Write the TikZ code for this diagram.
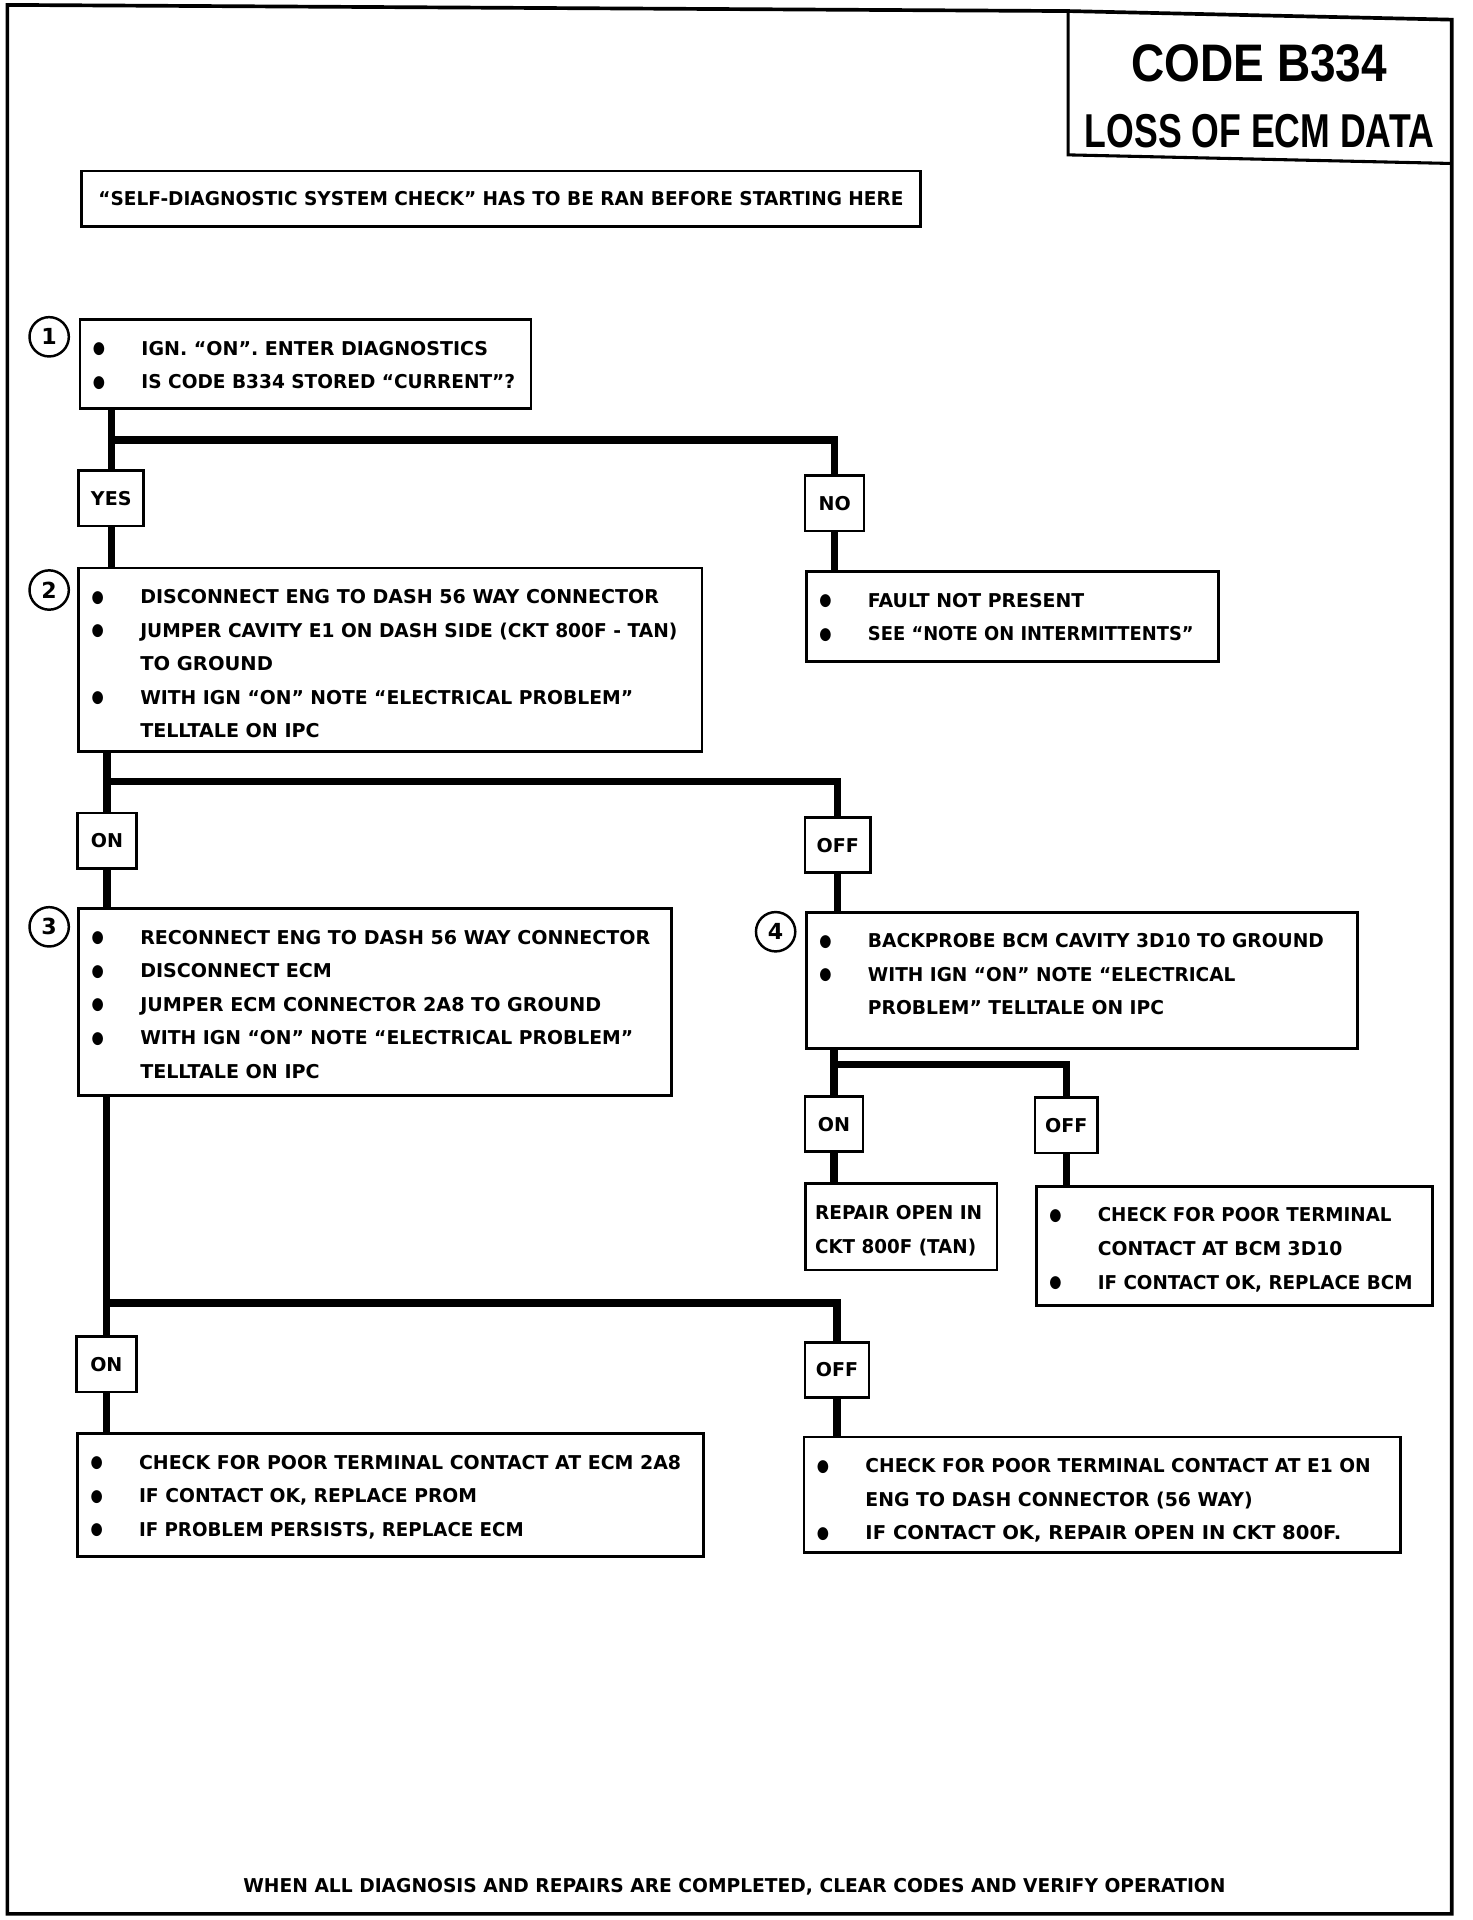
\documentclass[tikz,border=0pt]{standalone}
\usepackage{fontspec}
\usepackage{graphicx}
\setmainfont{DejaVu Sans}
\newfontfamily\titf{Liberation Sans}
\newlength\bw
\newcommand\bul{\smash{\makebox[0pt]{\raisebox{1.2pt}{\scalebox{0.95}[1.15]{\fontsize{12}{12}\selectfont ●}}}}}
\newcommand\BL[2]{\hbox to\bw{\hskip15.5pt\bul\hskip34.5pt\smash{\resizebox{#1pt}{\height}{#2}}\hss}\kern27.3pt}
\newcommand\CL[2]{\hbox to\bw{\hskip50pt\smash{\resizebox{#1pt}{\height}{#2}}\hss}\kern27.3pt}
\newcommand\PL[2]{\hbox to\bw{\hskip8pt\smash{\resizebox{#1pt}{\height}{#2}}\hss}\kern27.3pt}
\newcommand\TB[3]{\bw=#1pt\vbox to#2pt{\offinterlineskip\kern29pt #3\vss}}
\begin{document}
\begin{tikzpicture}[x=1pt,y=-1pt,
  font=\fontsize{15.5}{18}\selectfont\bfseries,
  box/.style={draw,line width=2.2pt,inner sep=0pt,anchor=north west},
  lbl/.style={draw,line width=2.2pt,inner sep=0pt,minimum height=45pt},
  num/.style={circle,draw,line width=2pt,minimum size=32pt,inner sep=0pt,font=\fontsize{18}{18}\selectfont\bfseries},
  conn/.style={line width=6pt},
  frame/.style={line width=3pt}]
\useasboundingbox (0,0) rectangle (1198,1562);
% outer frame and title box
\draw[frame] (6,4) -- (869,9) -- (1181,16) -- (1181,1557) -- (6,1557) -- cycle;
\draw[line width=2.5pt] (869,9) -- (869,126) -- (1181,133);
\node[anchor=north,inner sep=0pt] (title) at (1024.5,36) {\vbox{\offinterlineskip
  \hbox to290pt{\hss\resizebox{208pt}{30pt}{\titf\bfseries CODE B334}\hss}\kern26pt
  \hbox to290pt{\hss\resizebox{284pt}{27pt}{\titf\bfseries LOSS OF ECM DATA}\hss}}};
% self diagnostic
\node[box,minimum width=683pt,minimum height=45pt] (sd) at (65,138)
  {\resizebox{655pt}{\height}{“SELF-DIAGNOSTIC SYSTEM CHECK” HAS TO BE RAN BEFORE STARTING HERE}};
% step boxes
\node[box] (b1) at (64,259) {\TB{367}{72}{\BL{282}{IGN. “ON”. ENTER DIAGNOSTICS}\BL{304}{IS CODE B334 STORED “CURRENT”?}}};
\node[box] (b2) at (63,461) {\TB{507}{149}{\BL{422}{DISCONNECT ENG TO DASH 56 WAY CONNECTOR}\BL{437}{JUMPER CAVITY E1 ON DASH SIDE (CKT 800F - TAN)}\CL{108}{TO GROUND}\BL{401}{WITH IGN “ON” NOTE “ELECTRICAL PROBLEM”}\CL{146}{TELLTALE ON IPC}}};
\node[box] (nr) at (655,464) {\TB{335}{73}{\BL{176}{FAULT NOT PRESENT}\BL{265}{SEE “NOTE ON INTERMITTENTS”}}};
\node[box] (b3) at (63,738) {\TB{482}{152}{\BL{415}{RECONNECT ENG TO DASH 56 WAY CONNECTOR}\BL{156}{DISCONNECT ECM}\BL{375}{JUMPER ECM CONNECTOR 2A8 TO GROUND}\BL{401}{WITH IGN “ON” NOTE “ELECTRICAL PROBLEM”}\CL{146}{TELLTALE ON IPC}}};
\node[box] (b4) at (655,741) {\TB{448}{111}{\BL{371}{BACKPROBE BCM CAVITY 3D10 TO GROUND}\BL{299}{WITH IGN “ON” NOTE “ELECTRICAL}\CL{241}{PROBLEM” TELLTALE ON IPC}}};
\node[box] (rp) at (654,962) {\TB{156}{70}{\PL{136}{REPAIR OPEN IN}\PL{131}{CKT 800F (TAN)}}};
\node[box] (ck) at (842,964) {\TB{322}{97}{\BL{239}{CHECK FOR POOR TERMINAL}\CL{199}{CONTACT AT BCM 3D10}\BL{256}{IF CONTACT OK, REPLACE BCM}}};
\node[box] (b5) at (62,1165) {\TB{509}{100}{\BL{441}{CHECK FOR POOR TERMINAL CONTACT AT ECM 2A8}\BL{275}{IF CONTACT OK, REPLACE PROM}\BL{313}{IF PROBLEM PERSISTS, REPLACE ECM}}};
\node[box] (b6) at (653,1168) {\TB{485}{94}{\BL{411}{CHECK FOR POOR TERMINAL CONTACT AT E1 ON}\CL{315}{ENG TO DASH CONNECTOR (56 WAY)}\BL{387}{IF CONTACT OK, REPAIR OPEN IN CKT 800F.}}};
% step numbers
\node[num] (n1) at (40,274) {1};
\node[num] (n2) at (40,480) {2};
\node[num] (n3) at (40,754) {3};
\node[num] (n4) at (631,758) {4};
% branch labels
\node[lbl,minimum width=53pt] (yes) at (90.5,405.5) {YES};
\node[lbl,minimum width=48pt] (no) at (679,409.5) {NO};
\node[lbl,minimum width=48pt] (on1) at (87,684) {ON};
\node[lbl,minimum width=53pt] (off1) at (681.5,687.5) {OFF};
\node[lbl,minimum width=47pt] (on2) at (678.5,914.5) {ON};
\node[lbl,minimum width=51pt] (off2) at (867.5,915.5) {OFF};
\node[lbl,minimum width=49pt] (on3) at (86.5,1110) {ON};
\node[lbl,minimum width=52pt] (off3) at (681,1114.5) {OFF};
% junction levels
\coordinate (j1) at (0,358);
\coordinate (j2) at (0,636);
\coordinate (j3) at (0,866);
\coordinate (j4) at (0,1060);
% connectors
\draw[conn] (yes.north |- b1.south) -- (yes.north);
\draw[conn] (yes |- j1) -| (no.north);
\draw[conn] (yes.south) -- (yes.south |- b2.north);
\draw[conn] (no.south) -- (no.south |- nr.north);
\draw[conn] (on1.north |- b2.south) -- (on1.north);
\draw[conn] (on1 |- j2) -| (off1.north);
\draw[conn] (on1.south) -- (on1.south |- b3.north);
\draw[conn] (off1.south) -- (off1.south |- b4.north);
\draw[conn] (on2.north |- b4.south) -- (on2.north);
\draw[conn] (on2 |- j3) -| (off2.north);
\draw[conn] (on2.south) -- (on2.south |- rp.north);
\draw[conn] (off2.south) -- (off2.south |- ck.north);
\draw[conn] (on3.north |- b3.south) -- (on3.north);
\draw[conn] (on3 |- j4) -| (off3.north);
\draw[conn] (on3.south) -- (on3.south |- b5.north);
\draw[conn] (off3.south) -- (off3.south |- b6.north);
% footer
\node[inner sep=0pt] (foot) at (597.5,1535) {\resizebox{799pt}{\height}{WHEN ALL DIAGNOSIS AND REPAIRS ARE COMPLETED, CLEAR CODES AND VERIFY OPERATION}};
\end{tikzpicture}
\end{document}
